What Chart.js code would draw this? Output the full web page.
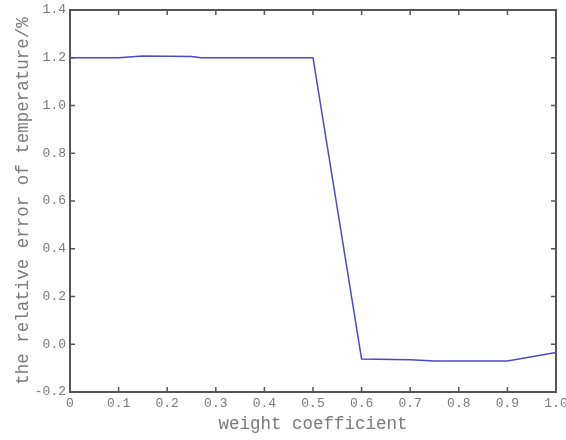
<!DOCTYPE html>
<html>
<head>
<meta charset="utf-8">
<script src="https://cdn.jsdelivr.net/npm/chart.js@4/dist/chart.umd.min.js"></script>
<style>
  html, body { margin: 0; padding: 0; background: #fff; }
  #wrap { width: 566px; height: 440px; }
</style>
</head>
<body>
<div id="wrap"><canvas id="chart" width="566" height="440"></canvas></div>
<script>
// values
const weightCoef = [0, 0.1, 0.15, 0.25, 0.27, 0.5, 0.6, 0.7, 0.75, 0.9, 1.0];
const relError = [1.2, 1.2, 1.207, 1.205, 1.2, 1.2, -0.062, -0.065, -0.07, -0.07, -0.035];
const xTickLabels = ['0', '0.1', '0.2', '0.3', '0.4', '0.5', '0.6', '0.7', '0.8', '0.9', '1.0'];
const yTickLabels = ['-0.2', '0.0', '0.2', '0.4', '0.6', '0.8', '1.0', '1.2', '1.4'];

const axisColor = '#555';
const textColor = '#7a7a7a';
const fontFam = '"Liberation Mono", "DejaVu Sans Mono", monospace';

// box round the plot and inward ticks on every side
const frameTicks = {
  id: 'frameTicks',
  afterDraw(chart) {
    const { ctx, chartArea: a, scales } = chart;
    ctx.save();
    ctx.strokeStyle = axisColor;
    ctx.lineWidth = 2;
    ctx.strokeRect(a.left, a.top, a.right - a.left, a.bottom - a.top);
    ctx.lineWidth = 1.5;
    const len = 5;
    ctx.beginPath();
    xTickLabels.forEach(l => {
      const px = scales.x.getPixelForValue(parseFloat(l));
      ctx.moveTo(px, a.bottom); ctx.lineTo(px, a.bottom - len);
      ctx.moveTo(px, a.top); ctx.lineTo(px, a.top + len);
    });
    yTickLabels.forEach(l => {
      const py = scales.y.getPixelForValue(parseFloat(l));
      ctx.moveTo(a.left, py); ctx.lineTo(a.left + len, py);
      ctx.moveTo(a.right, py); ctx.lineTo(a.right - len, py);
    });
    ctx.stroke();
    ctx.restore();
  }
};

new Chart(document.getElementById('chart'), {
  type: 'line',
  data: {
    datasets: [{
      data: weightCoef.map((x, i) => ({ x: x, y: relError[i] })),
      borderColor: '#4a4ac8',
      borderWidth: 1.5,
      pointRadius: 0,
      tension: 0,
      fill: false
    }]
  },
  options: {
    responsive: false,
    animation: false,
    layout: { padding: { top: 10, right: 10, left: 0, bottom: 0 } },
    plugins: { legend: { display: false }, tooltip: { enabled: false } },
    scales: {
      x: {
        type: 'linear',
        min: 0, max: 1,
        afterFit(s) { s.height = 48; s.paddingLeft = 0; s.paddingRight = 0; },
        afterBuildTicks(s) { s.ticks = xTickLabels.map(l => ({ value: parseFloat(l) })); },
        ticks: {
          color: textColor,
          font: { family: fontFam, size: 13 },
          padding: 4,
          maxRotation: 0,
          callback: (v, i) => xTickLabels[i]
        },
        grid: { display: false, drawTicks: false },
        border: { display: false },
        title: {
          display: true,
          text: 'weight coefficient',
          color: textColor,
          font: { family: fontFam, size: 17.5 },
          padding: { top: 2, bottom: 5 }
        }
      },
      y: {
        type: 'linear',
        min: -0.2, max: 1.4,
        afterFit(s) { s.width = 70; s.paddingTop = 0; s.paddingBottom = 0; },
        afterBuildTicks(s) { s.ticks = yTickLabels.map(l => ({ value: parseFloat(l) })); },
        ticks: {
          color: textColor,
          font: { family: fontFam, size: 13 },
          padding: 4,
          callback: (v, i) => yTickLabels[i]
        },
        grid: { display: false, drawTicks: false },
        border: { display: false },
        title: {
          display: true,
          text: 'the relative error of temperature/%',
          color: textColor,
          font: { family: fontFam, size: 17.5 },
          padding: { top: 13, bottom: 2 }
        }
      }
    }
  },
  plugins: [frameTicks]
});
</script>
</body>
</html>
